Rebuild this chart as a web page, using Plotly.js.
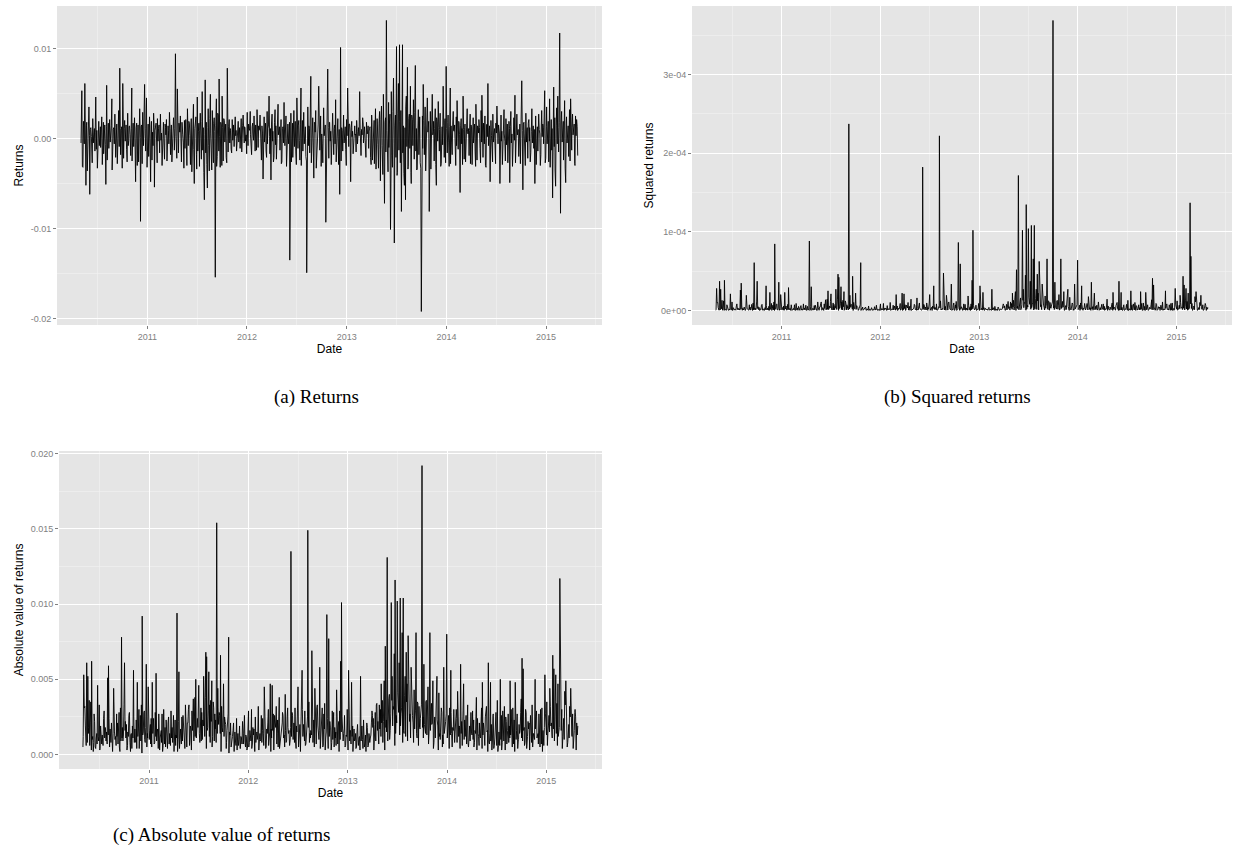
<!DOCTYPE html>
<html>
<head>
<meta charset="utf-8">
<script src="https://cdn.plot.ly/plotly-3.0.1.min.js"></script>
<style>html,body{margin:0;padding:0;background:#fff;}#chart{width:1235px;height:857px;}</style>
</head>
<body>
<div id="chart"></div>
<script>
// Daily returns, one value per ~1.8 calendar days
const firstDate = "2010-05-03";
const lastDate = "2015-04-27";
const returns = [
-0.0005,0.0012,0.0053,-0.0031,-0.0032,0.0019,0.0011,-0.0006,0.0061,0.0008,-0.0052,0.0014,0.0018,-0.0036,0.0006,0.0021,0.0035,0.0003,-0.0062,0.0010,
0.0012,0.0002,-0.0008,-0.0027,0.0022,-0.0005,0.0004,0.0011,-0.0014,0.0007,0.0046,-0.0012,0.0009,-0.0033,-0.0003,0.0004,0.0019,-0.0008,0.0007,0.0013,
-0.0010,0.0006,0.0024,-0.0029,0.0011,0.0018,-0.0017,0.0009,0.0015,-0.0007,-0.0051,0.0013,0.0059,-0.0024,0.0005,0.0017,-0.0011,0.0008,0.0021,-0.0004,
0.0002,0.0014,0.0044,-0.0035,-0.0015,0.0010,0.0012,-0.0006,0.0027,0.0012,-0.0021,0.0007,0.0016,-0.0028,-0.0005,0.0002,0.0031,-0.0009,0.0078,0.0011,
-0.0018,0.0009,0.0013,-0.0033,0.0061,0.0016,-0.0022,0.0011,0.0020,-0.0003,0.0006,0.0015,-0.0012,-0.0026,0.0028,-0.0008,-0.0002,0.0013,0.0014,0.0004,
-0.0019,0.0011,0.0056,-0.0025,0.0008,0.0017,-0.0009,0.0008,0.0023,-0.0004,-0.0048,0.0012,0.0017,-0.0030,0.0004,0.0015,-0.0026,0.0009,0.0033,0.0001,
-0.0092,0.0013,0.0015,-0.0028,0.0029,0.0010,-0.0008,0.0018,0.0060,0.0005,-0.0014,0.0011,0.0045,-0.0032,0.0010,0.0016,-0.0020,0.0007,0.0024,-0.0005,
-0.0048,0.0014,0.0019,-0.0024,0.0007,-0.0008,0.0028,0.0012,-0.0054,0.0009,0.0015,0.0017,-0.0004,-0.0027,0.0022,-0.0003,0.0011,0.0015,-0.0016,0.0008,
0.0027,-0.0002,0.0006,-0.0030,-0.0011,0.0007,0.0018,-0.0005,-0.0023,0.0016,0.0012,0.0004,0.0021,-0.0025,-0.0007,0.0014,0.0009,-0.0006,0.0029,0.0011,
-0.0018,0.0008,0.0015,-0.0026,-0.0002,0.0012,0.0023,0.0006,-0.0013,0.0011,0.0094,0.0002,-0.0010,-0.0022,0.0055,-0.0004,-0.0016,0.0017,0.0010,0.0007,
0.0025,-0.0009,-0.0026,0.0018,0.0013,0.0004,-0.0004,-0.0033,0.0020,-0.0011,0.0005,0.0021,-0.0021,-0.0030,0.0033,-0.0006,-0.0008,0.0019,0.0017,0.0003,
-0.0029,0.0016,0.0022,-0.0037,0.0009,0.0020,0.0038,-0.0012,-0.0050,0.0011,0.0015,0.0024,-0.0018,-0.0034,0.0046,-0.0014,0.0008,0.0017,-0.0031,0.0009,
0.0028,-0.0010,-0.0023,0.0019,0.0052,-0.0013,0.0012,-0.0038,-0.0068,0.0004,0.0065,-0.0016,0.0018,-0.0029,-0.0055,0.0012,0.0033,-0.0008,-0.0036,0.0022,
0.0049,0.0005,-0.0012,-0.0035,0.0031,-0.0009,-0.0027,0.0017,0.0023,0.0008,-0.0154,0.0014,0.0044,-0.0031,-0.0020,0.0028,0.0026,-0.0014,0.0066,0.0002,
-0.0032,0.0018,0.0015,-0.0030,0.0047,0.0012,-0.0025,0.0022,0.0020,-0.0004,0.0008,0.0016,-0.0021,-0.0027,0.0078,0.0001,-0.0015,0.0013,0.0021,-0.0005,
0.0011,0.0009,-0.0012,-0.0016,0.0021,-0.0002,0.0007,0.0015,-0.0009,0.0006,0.0024,0.0003,0.0009,-0.0014,-0.0006,0.0010,0.0019,-0.0004,0.0004,0.0012,
-0.0011,0.0007,0.0022,-0.0015,0.0007,0.0014,0.0026,0.0008,-0.0005,0.0013,0.0012,-0.0003,0.0004,-0.0017,0.0029,0.0005,-0.0008,0.0016,0.0011,0.0009,
0.0030,0.0004,-0.0007,-0.0018,0.0013,0.0017,0.0006,-0.0002,0.0025,0.0008,-0.0014,0.0015,0.0010,-0.0013,0.0032,0.0003,-0.0010,0.0014,0.0009,0.0010,
0.0026,0.0008,-0.0016,-0.0024,0.0014,0.0006,-0.0045,0.0013,0.0024,-0.0004,0.0005,0.0017,-0.0014,-0.0021,0.0030,-0.0006,0.0011,0.0015,0.0047,0.0002,
-0.0017,0.0011,-0.0046,0.0016,0.0027,-0.0003,0.0008,-0.0026,-0.0021,0.0018,0.0032,-0.0007,0.0014,-0.0023,-0.0005,0.0021,0.0038,0.0004,0.0007,0.0013,
-0.0013,0.0015,0.0021,-0.0028,-0.0026,0.0011,0.0013,-0.0005,0.0040,0.0016,-0.0008,0.0009,0.0025,-0.0031,-0.0018,0.0014,0.0016,-0.0006,0.0009,0.0018,
-0.0135,0.0012,0.0028,-0.0026,0.0010,0.0017,-0.0021,0.0008,0.0031,-0.0009,0.0004,0.0019,-0.0015,-0.0029,0.0045,0.0005,-0.0011,0.0014,0.0020,-0.0002,
-0.0024,0.0016,0.0056,-0.0030,0.0012,0.0020,-0.0014,0.0009,0.0029,-0.0006,0.0007,0.0013,-0.0020,-0.0025,-0.0149,0.0018,0.0035,-0.0008,0.0014,0.0011,
-0.0016,0.0013,0.0069,-0.0027,-0.0008,0.0015,0.0023,-0.0005,-0.0044,0.0018,0.0016,0.0007,0.0031,-0.0033,-0.0019,0.0012,0.0010,0.0016,0.0058,0.0004,
-0.0013,0.0010,0.0025,-0.0031,0.0005,-0.0006,-0.0027,0.0017,0.0034,0.0003,0.0011,0.0015,-0.0093,-0.0024,0.0020,-0.0004,0.0077,0.0012,-0.0022,0.0018,
0.0018,-0.0003,0.0008,-0.0029,-0.0010,0.0016,0.0028,0.0005,-0.0018,0.0011,0.0015,-0.0006,0.0043,-0.0026,-0.0007,0.0019,0.0022,0.0002,-0.0029,0.0010,
-0.0062,0.0015,0.0101,-0.0025,0.0012,0.0009,-0.0014,0.0017,0.0026,-0.0005,0.0006,0.0013,-0.0012,-0.0030,0.0021,0.0003,0.0056,0.0011,-0.0009,0.0016,
0.0016,0.0007,-0.0048,0.0012,0.0019,0.0002,0.0008,-0.0017,-0.0009,0.0010,0.0014,0.0004,0.0005,-0.0015,0.0020,0.0008,-0.0006,0.0011,0.0012,0.0003,
0.0052,0.0009,-0.0014,-0.0019,0.0010,0.0004,0.0023,0.0016,-0.0005,0.0007,0.0013,-0.0002,-0.0017,-0.0021,0.0018,0.0005,0.0006,0.0014,-0.0011,0.0008,
0.0011,0.0013,-0.0021,-0.0029,0.0026,0.0018,-0.0024,-0.0003,0.0008,0.0020,-0.0028,0.0009,0.0033,-0.0034,-0.0016,0.0022,0.0015,-0.0007,-0.0033,0.0017,
0.0030,-0.0012,-0.0047,0.0021,0.0036,-0.0008,-0.0022,-0.0040,0.0049,0.0003,-0.0072,0.0018,0.0023,-0.0015,0.0131,0.0009,-0.0029,-0.0037,0.0040,-0.0010,
0.0016,0.0027,-0.0101,-0.0036,0.0052,-0.0019,-0.0032,0.0030,0.0067,-0.0006,-0.0116,0.0014,0.0026,-0.0021,0.0102,-0.0041,-0.0038,0.0028,0.0061,-0.0013,
0.0104,0.0019,-0.0027,0.0031,-0.0081,0.0008,0.0104,-0.0016,0.0014,-0.0039,-0.0052,0.0012,-0.0068,0.0035,0.0047,-0.0009,0.0079,-0.0034,-0.0031,0.0022,
0.0027,-0.0011,0.0058,-0.0038,-0.0050,0.0026,0.0021,-0.0008,0.0043,0.0017,-0.0023,0.0029,0.0081,-0.0014,0.0011,-0.0035,-0.0034,0.0006,0.0032,-0.0018,
0.0017,0.0024,-0.0027,-0.0033,-0.0192,0.0018,0.0025,-0.0011,0.0060,0.0020,-0.0018,0.0014,0.0035,-0.0036,-0.0013,0.0026,0.0045,0.0007,0.0010,0.0019,
-0.0081,0.0016,0.0030,-0.0034,-0.0020,0.0021,0.0049,0.0004,0.0008,0.0019,-0.0025,0.0011,0.0033,-0.0029,-0.0052,0.0023,0.0019,-0.0003,0.0041,0.0012,
-0.0014,0.0010,0.0028,-0.0031,-0.0028,0.0005,0.0013,-0.0007,0.0058,0.0014,-0.0021,0.0020,0.0022,-0.0027,0.0080,0.0011,-0.0016,0.0018,0.0026,-0.0004,
-0.0031,0.0013,0.0056,-0.0028,0.0014,-0.0005,-0.0018,0.0016,0.0030,0.0009,0.0008,0.0015,-0.0025,-0.0030,0.0024,-0.0008,0.0042,0.0012,-0.0012,0.0019,
0.0018,0.0004,-0.0060,0.0014,0.0022,-0.0006,0.0011,-0.0029,0.0047,0.0010,-0.0023,0.0012,0.0016,-0.0026,-0.0007,0.0015,0.0033,0.0008,0.0005,0.0011,
-0.0019,0.0009,0.0027,-0.0028,0.0015,0.0013,-0.0029,0.0010,0.0023,-0.0005,0.0008,0.0016,-0.0014,-0.0031,0.0038,0.0003,-0.0024,0.0014,0.0012,0.0006,
0.0021,0.0012,-0.0011,-0.0027,0.0031,-0.0004,0.0048,0.0013,-0.0021,0.0017,0.0010,-0.0006,0.0025,-0.0030,-0.0032,0.0015,0.0016,0.0002,0.0061,-0.0008,
0.0007,0.0014,-0.0048,0.0009,0.0020,0.0003,-0.0009,-0.0026,0.0027,-0.0004,0.0006,0.0011,-0.0019,-0.0028,0.0017,0.0006,0.0036,-0.0002,-0.0006,0.0015,
0.0013,0.0006,-0.0050,0.0010,0.0026,-0.0003,0.0008,-0.0029,-0.0015,0.0009,0.0032,0.0005,-0.0003,-0.0025,0.0022,-0.0007,0.0012,0.0016,-0.0027,0.0008,
0.0019,0.0011,-0.0049,0.0013,0.0030,-0.0005,0.0005,-0.0031,-0.0012,0.0007,0.0023,-0.0002,0.0048,-0.0027,-0.0010,0.0016,0.0027,0.0004,0.0009,0.0010,
-0.0020,0.0014,0.0016,-0.0028,0.0037,0.0011,0.0064,0.0009,-0.0057,0.0016,0.0018,0.0006,-0.0008,-0.0030,0.0028,-0.0004,0.0006,0.0012,-0.0022,0.0017,
0.0021,-0.0003,0.0012,-0.0026,-0.0016,0.0008,0.0033,-0.0005,0.0009,0.0014,-0.0011,0.0010,-0.0050,0.0017,0.0025,-0.0029,0.0011,0.0013,-0.0014,0.0007,
0.0027,0.0010,0.0005,-0.0030,-0.0018,0.0007,0.0031,0.0002,0.0016,0.0012,-0.0006,0.0018,0.0053,-0.0027,-0.0022,0.0013,0.0035,-0.0006,0.0014,0.0019,
-0.0026,0.0015,0.0044,-0.0032,0.0019,0.0021,-0.0013,0.0011,-0.0066,0.0017,0.0057,-0.0009,0.0023,-0.0035,-0.0053,0.0014,0.0034,-0.0006,0.0047,0.0012,
-0.0015,0.0018,0.0117,-0.0029,-0.0083,0.0016,0.0030,-0.0004,0.0012,0.0019,-0.0024,0.0010,0.0042,-0.0033,-0.0049,0.0017,0.0024,-0.0005,0.0008,0.0014,
-0.0020,0.0011,0.0032,-0.0025,0.0044,0.0015,-0.0013,0.0012,0.0027,0.0004,0.0009,0.0016,-0.0028,-0.0030,0.0025,0.0003,0.0021,0.0013,-0.0019
];

// Tick labels
const yearTickVals = ["2011-01-01","2012-01-01","2013-01-01","2014-01-01","2015-01-01"];
const yearTickText = ["2011","2012","2013","2014","2015"];
const yearMinorVals = ["2010-07-02","2011-07-02","2012-07-02","2013-07-02","2014-07-02","2015-07-02"];
const retTickVals = [-0.02,-0.01,0.00,0.01];
const retTickText = ["-0.02","-0.01","0.00","0.01"];
const retMinorVals = [-0.015,-0.005,0.005];
const sqTickVals = [0,0.0001,0.0002,0.0003];
const sqTickText = ["0e+00","1e-04","2e-04","3e-04"];
const sqMinorVals = [0.00005,0.00015,0.00025,0.00035];
const absTickVals = [0,0.005,0.01,0.015,0.02];
const absTickText = ["0.000","0.005","0.010","0.015","0.020"];
const absMinorVals = [0.0025,0.0075,0.0125,0.0175];
const captions = ["(a) Returns","(b) Squared returns","(c) Absolute value of returns"];

// Observation dates, evenly spaced between first and last observation
const t0 = Date.parse(firstDate), t1 = Date.parse(lastDate);
const dates = returns.map((_, i) => new Date(t0 + (t1 - t0) * i / (returns.length - 1)).toISOString().slice(0, 10));
const squared = returns.map(r => r * r);
const absolute = returns.map(r => Math.abs(r));

const W = 1235, H = 857;
const px = v => v / W, py = v => 1 - v / H;
const xRange = ["2010-02-04","2015-07-25"];

function xAxis(dom, anchor) {
  return {
    domain: dom, anchor: anchor, type: "date", range: xRange,
    tickmode: "array", tickvals: yearTickVals, ticktext: yearTickText,
    ticks: "outside", ticklen: 3, tickcolor: "#7f7f7f", tickwidth: 1,
    tickfont: {size: 9, color: "#7f7f7f"},
    showgrid: true, gridcolor: "#ffffff", gridwidth: 1, zeroline: false, showline: false,
    minor: {tickmode: "array", tickvals: yearMinorVals, showgrid: true, gridcolor: "#f2f2f2", gridwidth: 0.6, ticks: ""},
    title: {text: "Date", font: {size: 12, color: "#000"}, standoff: 1},
    fixedrange: true
  };
}
function yAxis(dom, anchor, range, tv, tt, mv, title) {
  return {
    domain: dom, anchor: anchor, range: range,
    tickmode: "array", tickvals: tv, ticktext: tt,
    ticks: "outside", ticklen: 3, tickcolor: "#7f7f7f", tickwidth: 1,
    tickfont: {size: 9, color: "#7f7f7f"},
    showgrid: true, gridcolor: "#ffffff", gridwidth: 1, zeroline: false, showline: false,
    minor: {tickmode: "array", tickvals: mv, showgrid: true, gridcolor: "#f2f2f2", gridwidth: 0.6, ticks: ""},
    title: {text: title, font: {size: 12, color: "#000"}, standoff: 4},
    fixedrange: true
  };
}

const line = {color: "#000000", width: 0.9};
const traces = [
  {x: dates, y: returns, type: "scatter", mode: "lines", line: line, xaxis: "x", yaxis: "y", hoverinfo: "skip"},
  {x: dates, y: squared, type: "scatter", mode: "lines", line: line, xaxis: "x2", yaxis: "y2", hoverinfo: "skip"},
  {x: dates, y: absolute, type: "scatter", mode: "lines", line: line, xaxis: "x3", yaxis: "y3", hoverinfo: "skip"}
];

const topDom = [py(325), py(6)];
const botDom = [py(769), py(451)];
const capFont = {family: "Liberation Serif, DejaVu Serif, serif", size: 19, color: "#000"};

const layout = {
  width: W, height: H, margin: {l: 0, r: 0, t: 0, b: 0},
  paper_bgcolor: "#ffffff", plot_bgcolor: "#e5e5e5", showlegend: false,
  font: {family: "Liberation Sans, Arial, sans-serif", color: "#000"},
  xaxis: xAxis([px(57), px(602)], "y"),
  yaxis: yAxis(topDom, "x", [-0.0207, 0.0147], retTickVals, retTickText, retMinorVals, "Returns"),
  xaxis2: xAxis([px(692), px(1232)], "y2"),
  yaxis2: yAxis(topDom, "x2", [-0.0000184, 0.000387], sqTickVals, sqTickText, sqMinorVals, "Squared returns"),
  xaxis3: xAxis([px(59), px(602)], "y3"),
  yaxis3: yAxis(botDom, "x3", [-0.00096, 0.02017], absTickVals, absTickText, absMinorVals, "Absolute value of returns"),
  annotations: [
    {text: captions[0], x: px(316), y: py(397), xref: "paper", yref: "paper", xanchor: "center", yanchor: "middle", showarrow: false, font: capFont},
    {text: captions[1], x: px(957), y: py(397), xref: "paper", yref: "paper", xanchor: "center", yanchor: "middle", showarrow: false, font: capFont},
    {text: captions[2], x: px(222), y: py(835), xref: "paper", yref: "paper", xanchor: "center", yanchor: "middle", showarrow: false, font: capFont}
  ]
};

Plotly.newPlot("chart", traces, layout, {staticPlot: true, displayModeBar: false});
</script>
</body>
</html>
